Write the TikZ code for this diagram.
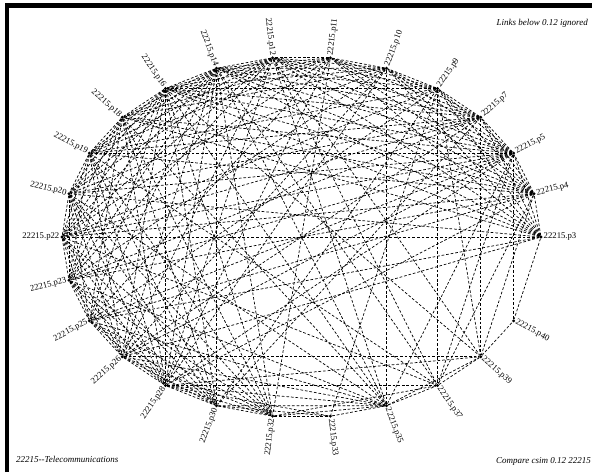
\documentclass[tikz,border=0pt]{standalone}
\usepackage{fontspec}
\setmainfont{Liberation Serif}
\usetikzlibrary{calc}
\begin{document}
\begin{tikzpicture}[x=1pt,y=1pt,
 dot/.style={circle,fill=black,inner sep=0pt,minimum size=3.2pt},
 link/.style={line width=0.7pt,dash pattern=on 2.7pt off 1.9pt},
 lbl/.style={font=\fontsize{8.7}{9}\selectfont,inner sep=0.5pt},
 captxt/.style={font=\fontsize{9}{10}\selectfont\itshape,inner sep=0pt}]
\useasboundingbox (0,0) rectangle (592,472);
\draw[line width=4.5pt,line join=miter] (7,0) -- (7,466.5) -- (592,466.5);
% nodes on an ellipse (26 slots, one empty)
\foreach \n/\k in {3/0,4/1,5/2,7/3,9/4,10/5,11/6,12/7,14/8,16/9,18/10,19/11,20/12,22/13,23/14,25/15,26/16,28/17,30/18,32/19,33/20,35/21,37/22,39/23,40/24}{
  \pgfmathsetmacro\myang{\k*360/26}
  \node[dot] (p\n) at ({301.5+239.5*cos(\myang)},{235+180.5*sin(\myang)}) {};
}
% links
\foreach \a/\bs in {
 3/{4,5,7,9,10,11,12,14,16,18,20,22,25,26,40},
 4/{5,7,9,10,11,12,14,16,18,19,22,23,25,28,37,39},
 5/{7,9,10,11,12,14,16,18,19,20,22,23,25,26,28,35,37,40},
 7/{9,10,11,12,14,16,19,20,22,23,26,30,39},
 9/{10,11,12,14,16,19,22,25,30,33,37,39},
 10/{11,12,14,16,18,20,23,26,28,35},
 11/{12,14,16,18,19,22,25,28,32},
 12/{14,16,18,19,20,22,23,26,28,35,37,39},
 14/{16,18,19,20,22,23,25,26,28,30,32,35,37},
 16/{18,19,20,22,23,25,26,28,30,32,35,39},
 18/{19,20,22,23,25,28,30,32,35},
 19/{20,22,23,26,28,30,32,37},
 20/{22,23,25,26,28,30,32,35},
 22/{23,25,26,28,30,32,37},
 23/{25,26,28,30,32,35},
 25/{26,28,30,32,35},
 26/{28,30,32,35,39},
 28/{30,32,33,35,37,39},
 30/{32,33,35},
 32/{33,35,37},
 33/{35},
 35/{37,39},
 37/{39},
 39/{40}}{
  \foreach \b in \bs {\draw[link] (p\a) -- (p\b);}
}
% labels
\foreach \n/\k in {3/0,4/1,5/2,7/3,9/4,10/5,11/6,12/7,14/8,16/9,18/10,19/11,20/12,22/13,23/14,25/15,26/16,28/17,30/18,32/19,33/20,35/21,37/22,39/23,40/24}{
  \pgfmathsetmacro\myang{\k*360/26}
  \pgfmathsetmacro\mycos{cos(\myang)}
  \ifdim \mycos pt>0pt
    \node[lbl,rotate=\myang,anchor=west] (l\n) at ($(p\n)+(\myang:2pt)$) {22215.p\n};
  \else
    \pgfmathsetmacro\myrot{\myang+180}
    \node[lbl,rotate=\myrot,anchor=east] (l\n) at ($(p\n)+(\myang:2pt)$) {22215.p\n};
  \fi
}
\node[captxt,anchor=base east] (c1) at (588,446) {Links below 0.12 ignored};
\node[captxt,anchor=base west] (c2) at (16,9.3) {22215-{}-Telecommunications};
\node[captxt,anchor=base east] (c3) at (591,9) {Compare csim 0.12 22215};
\end{tikzpicture}
\end{document}
